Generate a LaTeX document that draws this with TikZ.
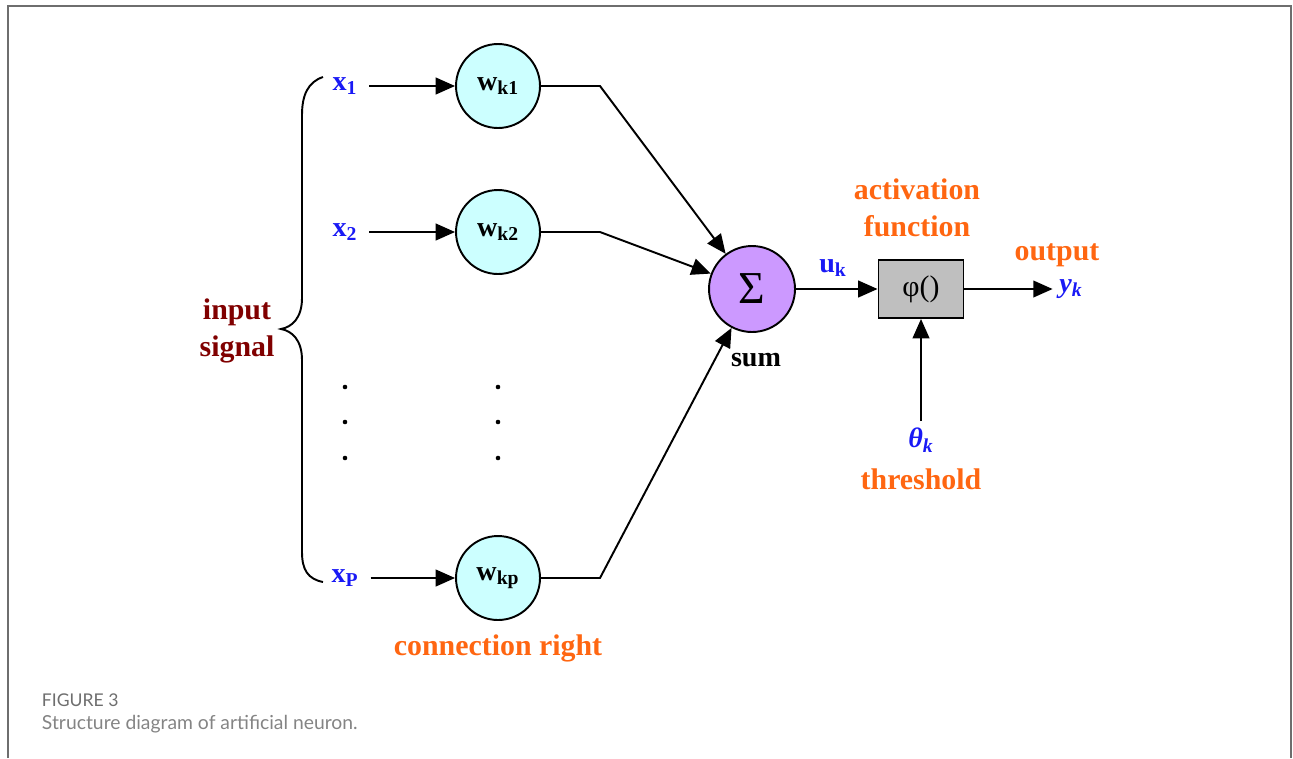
\documentclass[tikz,border=0pt]{standalone}
\usepackage{fontspec}
\setmainfont{Liberation Serif}
\newfontfamily\capfont{Lato}
\usetikzlibrary{arrows.meta}
\definecolor{inblue}{RGB}{25,25,245}
\definecolor{lblorange}{RGB}{255,102,17}
\definecolor{sigred}{RGB}{128,0,0}
\definecolor{wcyan}{RGB}{204,255,255}
\definecolor{sumpurple}{RGB}{204,153,255}
\definecolor{boxgray}{RGB}{191,191,191}
\definecolor{framegray}{RGB}{110,110,110}
\tikzset{
  weight/.style={circle,draw,fill=wcyan,minimum size=1.68cm,inner sep=0pt,
    font=\fontsize{16}{18}\selectfont\bfseries},
  inlbl/.style={text=inblue,font=\fontsize{16}{18}\selectfont\bfseries},
  orlbl/.style={text=lblorange,align=center,font=\fontsize{17}{21}\selectfont\bfseries},
}

\begin{document}
\begin{tikzpicture}[x=0.02cm,y=-0.02cm,line width=1.1pt,
  >={Triangle[length=11pt,width=9.5pt]}]
\useasboundingbox (0,0) rectangle (1293,758);
\draw[framegray,line width=1.4pt] (8,758) -- (8,6) -- (1291,6) -- (1291,758);

\node[circle,draw,fill=sumpurple,minimum size=1.72cm,inner sep=0pt,
  font=\fontsize{26}{28}\selectfont] (sum) at (752,289) {Σ};
\node[font=\fontsize{16}{18}\selectfont\bfseries] (sumlbl) at (756,360) {sum};

% input rows
\foreach \n/\y/\s in {1/86/1,2/232/2,p/578/P}{
  \node[inlbl] (x\n) at (345,\y) {x\textsubscript{\s}};
  \node[weight] (w\n) at (498,\y) {w\textsubscript{k\n}};
  \coordinate (b\n) at (600,\y);
  \draw[->,shorten <=3pt] (x\n) -- (w\n);
  \draw[->] (w\n) -- (b\n) -- (sum);
}
\foreach \y in {387,422,458}{
  \fill (345,\y) circle (1.3pt);
  \fill (498,\y) circle (1.3pt);
}

% brace
\draw (323,77) .. controls (308,82) and (302,95) .. (302,115) -- (302,298)
  .. controls (302,318) and (292,327) .. (281,329)
  .. controls (292,331) and (302,340) .. (302,360) -- (302,552)
  .. controls (302,570) and (308,579) .. (323,582);
\node[text=sigred,align=center,font=\fontsize{17}{21}\selectfont\bfseries]
  (inlabel) at (237,331) {input\\signal};

\node[orlbl] (conlbl) at (498,648) {connection right};

% activation
\node[draw,fill=boxgray,minimum width=1.7cm,minimum height=1.16cm,
  font=\fontsize{17}{19}\selectfont] (phi) at (921,289) {φ()};
\node[orlbl] (actlbl) at (917,208) {activation\\function};
\node[inlbl] (uk) at (833,268) {u\textsubscript{k}};
\draw[->] (sum) -- (phi);

\node[inlbl,font=\fontsize{16}{18}\selectfont\bfseries\itshape] (yk) at (1071,289) {y\textsubscript{k}};
\node[orlbl] (outlbl) at (1057,255) {output};
\draw[->] (phi) -- (yk);

\node[inlbl,font=\fontsize{16}{18}\selectfont\bfseries\itshape] (theta) at (921,440) {θ\textsubscript{k}};
\node[orlbl] (thrlbl) at (921,479) {threshold};
\draw[->] (theta) -- (phi);

% caption
\node[anchor=west,text=framegray,inner sep=0pt,
  font=\capfont\fontsize{10}{12}\selectfont] (fignum) at (41,700) {FIGURE 3};
\node[anchor=west,text=framegray!85,inner sep=0pt,
  font=\capfont\fontsize{11}{13}\selectfont] (figcap) at (41,724) {Structure diagram of artificial neuron.};
\end{tikzpicture}
\end{document}
